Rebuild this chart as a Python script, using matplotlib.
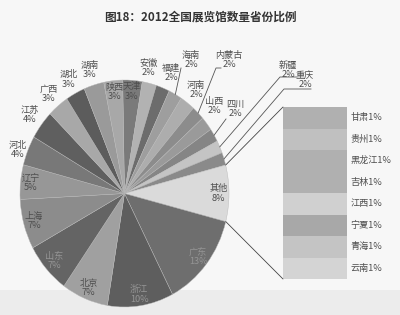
import numpy as np
import matplotlib
matplotlib.use("Agg")
import matplotlib.pyplot as plt
from matplotlib.colors import to_rgb
from matplotlib.patches import ConnectionPatch, Rectangle

plt.rcParams["font.family"] = ["Noto Sans CJK SC", "DejaVu Sans"]

# ---------------------------------------------------------------------------
# Data (percent of national total)
# ---------------------------------------------------------------------------
title = "图18：2012全国展览馆数量省份比例"

pie_names = ["天津", "安徽", "福建", "海南", "河南", "内蒙古", "山西", "四川",
             "新疆", "重庆", "其他", "广东", "浙江", "北京", "山东", "上海",
             "辽宁", "河北", "江苏", "广西", "湖北", "湖南", "陕西"]
pie_values = [3.0, 2.2, 2.1, 2.1, 2.3, 2.0, 2.0, 1.9,
              1.8, 1.8, None, 13.4, 10.2, 7.2, 7.2, 7.1,
              4.9, 4.2, 4.1, 3.3, 3.0, 3.1, 2.9]

bar_names = ["甘肃", "贵州", "黑龙江", "吉林", "江西", "宁夏", "青海", "云南"]
bar_values = [1.0, 1.0, 1.0, 1.0, 1.0, 1.0, 1.0, 1.0]

# 其他 is the sum of the provinces broken out in the bar
other_idx = pie_names.index("其他")
pie_values[other_idx] = sum(bar_values)

# ---------------------------------------------------------------------------
# Styling
# ---------------------------------------------------------------------------
pie_colors = ["#7a7a7a", "#b2b2b2", "#6c6c6c", "#9e9e9e", "#adadad", "#8c8c8c",
              "#9a9a9a", "#858585", "#c4c4c4", "#8a8a8a", "#dadada", "#6e6e6e",
              "#5e5e5e", "#a0a0a0", "#646464", "#8c8c8c", "#979797", "#787878",
              "#5f5f5f", "#a8a8a8", "#5c5c5c", "#9a9a9a", "#a8a8a8"]
bar_colors = ["#b0b0b0", "#c0c0c0", "#b0b0b0", "#b0b0b0",
              "#d0d0d0", "#a8a8a8", "#c4c4c4", "#d4d4d4"]
txt_color = "#4e4e4e"
txt_on_dark = "#959595"
line_color = "#555555"
fs = 6.6

W, H = 400, 315
fig = plt.figure(figsize=(W / 100, H / 100), dpi=100, facecolor="#f7f7f7")

# soft grey band along the bottom
bg = fig.add_axes([0, 0, 1, 1], zorder=-1)
bg.set_xlim(0, W)
bg.set_ylim(H, 0)
bg.axis("off")
bg.add_patch(Rectangle((0, 290), W, 25, color="#ececec", lw=0))

fig.text(0.5, 1 - 17 / H, title, ha="center", va="center",
         fontsize=8.4, fontweight="bold", color="#333333")

# pie box in pixel coordinates (slightly stretched vertically, as in source)
px0, px1, py0, py1 = 20, 229, 80, 307
cx, cy = (px0 + px1) / 2, (py0 + py1) / 2
rx, ry = (px1 - px0) / 2, (py1 - py0) / 2

ax = fig.add_axes([px0 / W, 1 - py1 / H, (px1 - px0) / W, (py1 - py0) / H])
wedges, _ = ax.pie(pie_values, colors=pie_colors, startangle=91,
                   counterclock=False, radius=1.0,
                   wedgeprops=dict(linewidth=0.3, edgecolor="#b8b8b8"))
ax.set_aspect("auto")
ax.set_xlim(-1, 1)
ax.set_ylim(-1, 1)
ax.axis("off")


def to_pie(x, y):
    """image pixel -> pie data coords"""
    return (x - cx) / rx, (cy - y) / ry


inside = {"天津", "陕西", "其他", "广东", "浙江", "北京", "山东", "上海", "辽宁"}
# labels nudged by hand (centre in image pixels)
placed = {"安徽": (148, 68), "福建": (171, 73), "山西": (214, 106),
          "河北": (18, 150)}
# labels that sit away from their slice, with a leader line:
# name -> (label centre px, leader path px)
leaders = {
    "海南": ((191, 60), [(181, 68)]),
    "内蒙古": ((229, 60), [(221, 68), (216, 68)]),
    "四川": ((235, 109), [(226, 119)]),
    "新疆": ((288, 70), [(297, 77), (280, 77)]),
    "重庆": ((305, 80), [(311, 89), (284, 89)]),
}

for w, name, val, col in zip(wedges, pie_names, pie_values, pie_colors):
    mid = np.deg2rad((w.theta1 + w.theta2) / 2)
    label = f"{name}\n{val:.0f}%"
    color = txt_color
    if name in leaders:
        (lx, ly), path = leaders[name]
        tx, ty = to_pie(lx, ly)
        pts = [to_pie(*p) for p in path] + [(np.cos(mid), np.sin(mid))]
        xs, ys = zip(*pts)
        ax.plot(xs, ys, color=line_color, lw=0.6, clip_on=False)
    elif name in placed:
        tx, ty = to_pie(*placed[name])
    else:
        r = 0.9 if name in inside else 1.14
        tx, ty = r * np.cos(mid), r * np.sin(mid)
        if name in inside and np.mean(to_rgb(col)) < 0.45:
            color = txt_on_dark
    ax.text(tx, ty, label, ha="center", va="center", fontsize=fs,
            color=color, linespacing=1.05, clip_on=False)

# ---------------------------------------------------------------------------
# Bar of the "其他" slice
# ---------------------------------------------------------------------------
bx0, bx1, by0, by1 = 283, 347, 107, 279
bax = fig.add_axes([bx0 / W, 1 - by1 / H, (bx1 - bx0) / W, (by1 - by0) / H])
bottoms = np.concatenate([[0], np.cumsum(bar_values)[:-1]])
bax.bar(np.zeros(len(bar_values)), bar_values, bottom=bottoms, width=1.0,
        color=bar_colors, linewidth=0)
total = sum(bar_values)
bax.set_xlim(-0.5, 0.5)
bax.set_ylim(total, 0)
bax.axis("off")
for name, val, b in zip(bar_names, bar_values, bottoms):
    bax.text(0.55, b + val / 2, f"{name}{val:.0f}%", ha="left", va="center",
             fontsize=fs, color=txt_color, clip_on=False)

# connectors from the 其他 wedge to the bar
ow = wedges[other_idx]
for theta, ybar in ((ow.theta2, 0), (ow.theta1, total)):
    t = np.deg2rad(theta)
    con = ConnectionPatch(xyA=(np.cos(t), np.sin(t)), coordsA=ax.transData,
                          xyB=(-0.5, ybar), coordsB=bax.transData,
                          color="#444444", lw=0.6)
    fig.add_artist(con)

fig.savefig("out.png", dpi=100, facecolor=fig.get_facecolor())
